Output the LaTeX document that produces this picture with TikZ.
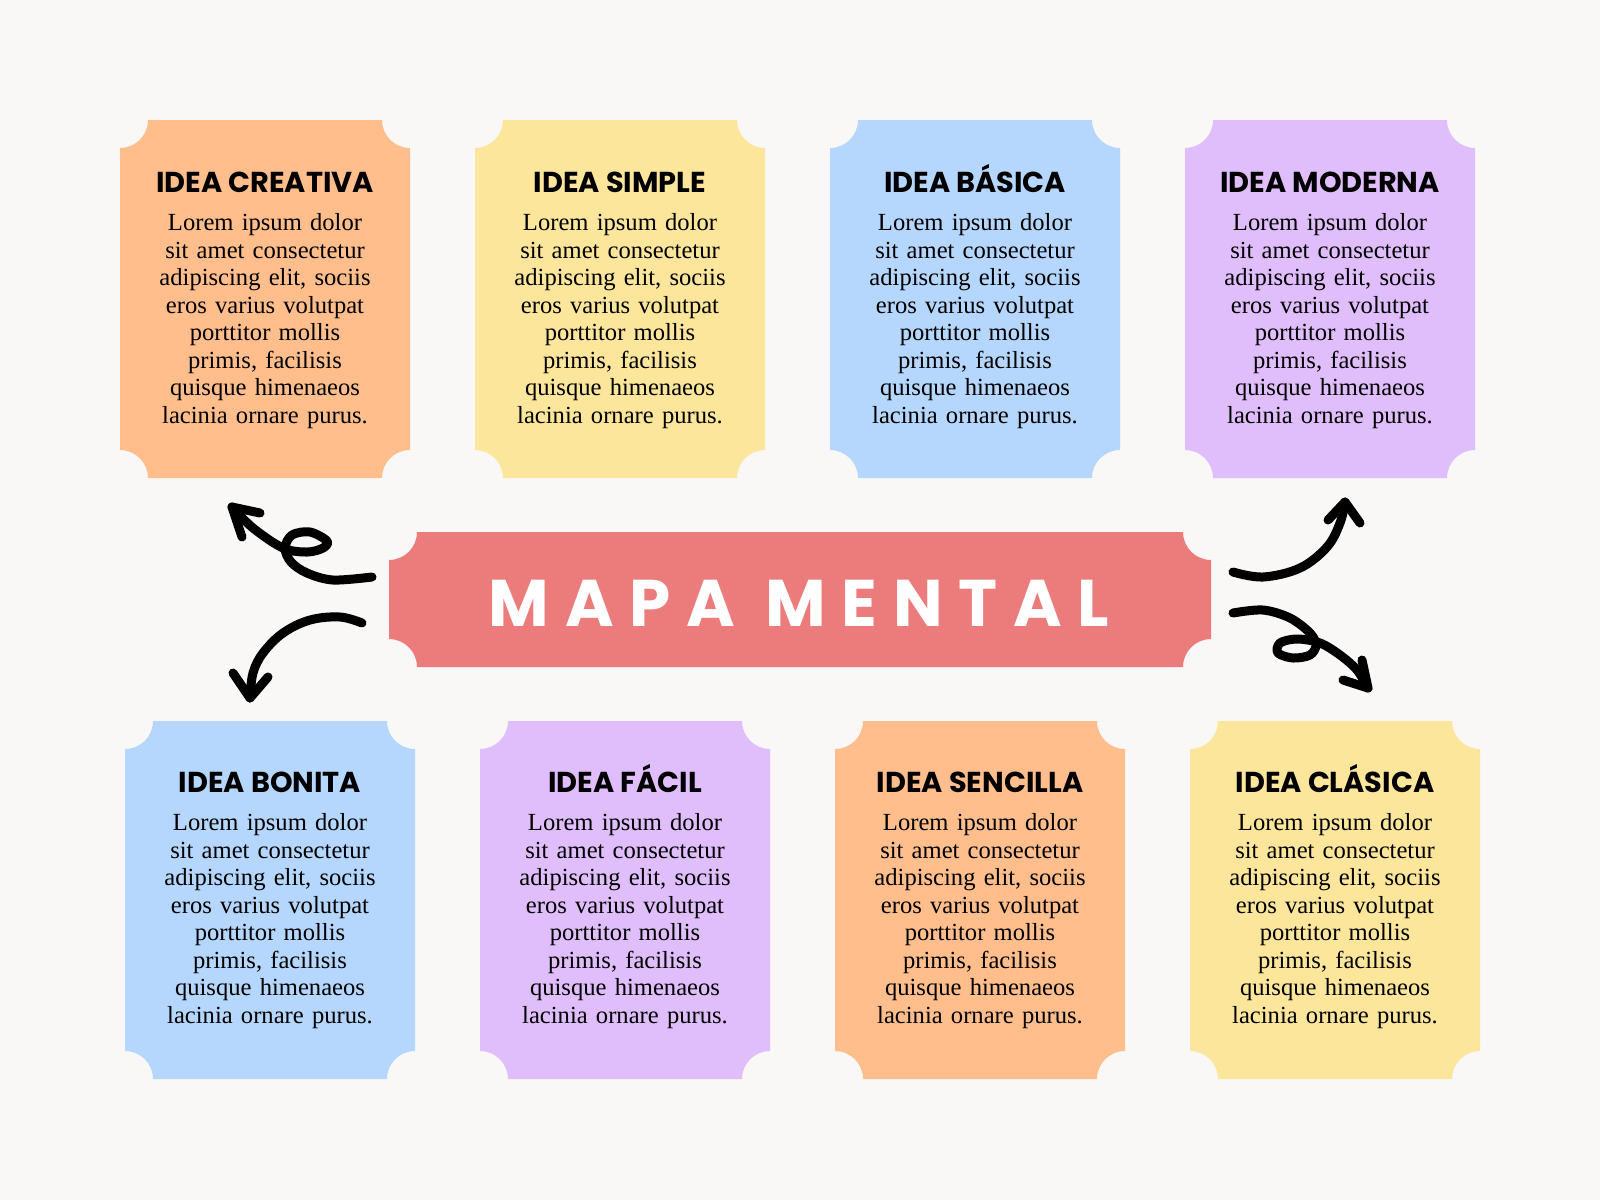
\documentclass[tikz,border=0pt]{standalone}
\usepackage{fontspec}
\setmainfont{Liberation Serif}
\newfontfamily\popfont{Poppins}
\newfontfamily\popbig{Poppins}[LetterSpace=24]
\definecolor{bgc}{HTML}{F9F8F6}
\definecolor{cOrange}{HTML}{FFBE8C}
\definecolor{cYellow}{HTML}{FCE69B}
\definecolor{cBlue}{HTML}{B5D6FD}
\definecolor{cPurple}{HTML}{E0BDFB}
\definecolor{cRed}{HTML}{EC7B7B}
\newcommand\ticketbox[6]{%
  \fill[#6] (#2+28,#3) -- (#4-28,#3) arc[start angle=180,end angle=90,radius=28]
    -- (#4,#5-28) arc[start angle=270,end angle=180,radius=28]
    -- (#2+28,#5) arc[start angle=0,end angle=-90,radius=28]
    -- (#2,#3+28) arc[start angle=90,end angle=0,radius=28] -- cycle;
  \coordinate (#1) at ({(#2+#4)/2},{(#3+#5)/2});
}
\newcommand\loremtext{Lorem ipsum dolor\\ sit amet consectetur\\ adipiscing elit, sociis\\ eros varius volutpat\\ porttitor mollis\\ primis, facilisis\\ quisque himenaeos\\ lacinia ornare purus.}
\tikzset{
  titlef/.style={anchor=base, inner sep=0pt, font=\popfont\bfseries\fontsize{14.4}{16}\selectfont, text=black},
  bodyf/.style={anchor=center, inner sep=0pt, text width=150pt, align=center, font=\fontsize{12.3}{13.77}\selectfont, text=black},
  arrowln/.style={line width=4.5pt, line cap=round, line join=round, draw=black},
}
\begin{document}
\begin{tikzpicture}[x=0.5pt,y=-0.5pt]
\fill[bgc] (0,0) rectangle (1600,1200);
\useasboundingbox (0,0) rectangle (1600,1200);

% top row
\ticketbox{k1}{120}{120}{410}{478}{cOrange}
\ticketbox{k2}{475}{120}{765}{478}{cYellow}
\ticketbox{k3}{830}{120}{1120}{478}{cBlue}
\ticketbox{k4}{1185}{120}{1475}{478}{cPurple}
% bottom row
\ticketbox{k5}{125}{721}{415}{1079}{cBlue}
\ticketbox{k6}{480}{721}{770}{1079}{cPurple}
\ticketbox{k7}{835}{721}{1125}{1079}{cOrange}
\ticketbox{k8}{1190}{721}{1480}{1079}{cYellow}
% center
\ticketbox{kc}{389}{532}{1211}{667}{cRed}

\node[titlef] (t1) at (265,192) {IDEA CREATIVA};
\node[titlef] (t2) at (620,192) {IDEA SIMPLE};
\node[titlef] (t3) at (975,192) {IDEA BÁSICA};
\node[titlef] (t4) at (1330,192) {IDEA MODERNA};
\node[titlef] (t5) at (270,792) {IDEA BONITA};
\node[titlef] (t6) at (625,792) {IDEA FÁCIL};
\node[titlef] (t7) at (980,792) {IDEA SENCILLA};
\node[titlef] (t8) at (1335,792) {IDEA CLÁSICA};

\node[bodyf] (b1) at (265,321) {\loremtext};
\node[bodyf] (b2) at (620,321) {\loremtext};
\node[bodyf] (b3) at (975,321) {\loremtext};
\node[bodyf] (b4) at (1330,321) {\loremtext};
\node[bodyf] (b5) at (270,921) {\loremtext};
\node[bodyf] (b6) at (625,921) {\loremtext};
\node[bodyf] (b7) at (980,921) {\loremtext};
\node[bodyf] (b8) at (1335,921) {\loremtext};

\node[inner sep=0pt, text=white, font=\popbig\bfseries\fontsize{33}{40}\selectfont] (mm) at (799,603) {MAPA MENTAL};

% arrow top-left (with loop)
\coordinate (a1s) at (372,577);
\coordinate (a1t) at (232,507);
\draw[arrowln] plot[smooth, tension=0.55] coordinates {(a1s) (333,580) (307,573) (291,562) (285,548) (292,535) (310,532) (327,541) (323,548) (307,552) (283,548) (253,528) (a1t)};
\draw[arrowln] (260,513) -- (a1t) -- (242,537);

% arrow bottom-left
\coordinate (a2s) at (362,623);
\coordinate (a2t) at (250,698);
\draw[arrowln] plot[smooth, tension=0.6] coordinates {(a2s) (340,617) (310,620) (283,633) (263,653) (253,673) (a2t)};
\draw[arrowln] (233,673) -- (a2t) -- (268,677);

% arrow top-right
\coordinate (a3s) at (1233,572);
\coordinate (a3t) at (1345,502);
\draw[arrowln] plot[smooth, tension=0.6] coordinates {(a3s) (1263,577) (1300,568) (1327,547) (1340,523) (a3t)};
\draw[arrowln] (1328,520) -- (a3t) -- (1360,523);

% arrow bottom-right (with loop)
\coordinate (a4s) at (1233,613);
\coordinate (a4t) at (1368,688);
\draw[arrowln] plot[smooth, tension=0.55] coordinates {(a4s) (1263,610) (1290,618) (1310,633) (1316,645) (1310,655) (1293,658) (1278,653) (1280,643) (1297,639) (1320,643) (1340,655) (1357,670) (a4t)};
\draw[arrowln] (1343,680) -- (a4t) -- (1362,660);
\end{tikzpicture}
\end{document}
